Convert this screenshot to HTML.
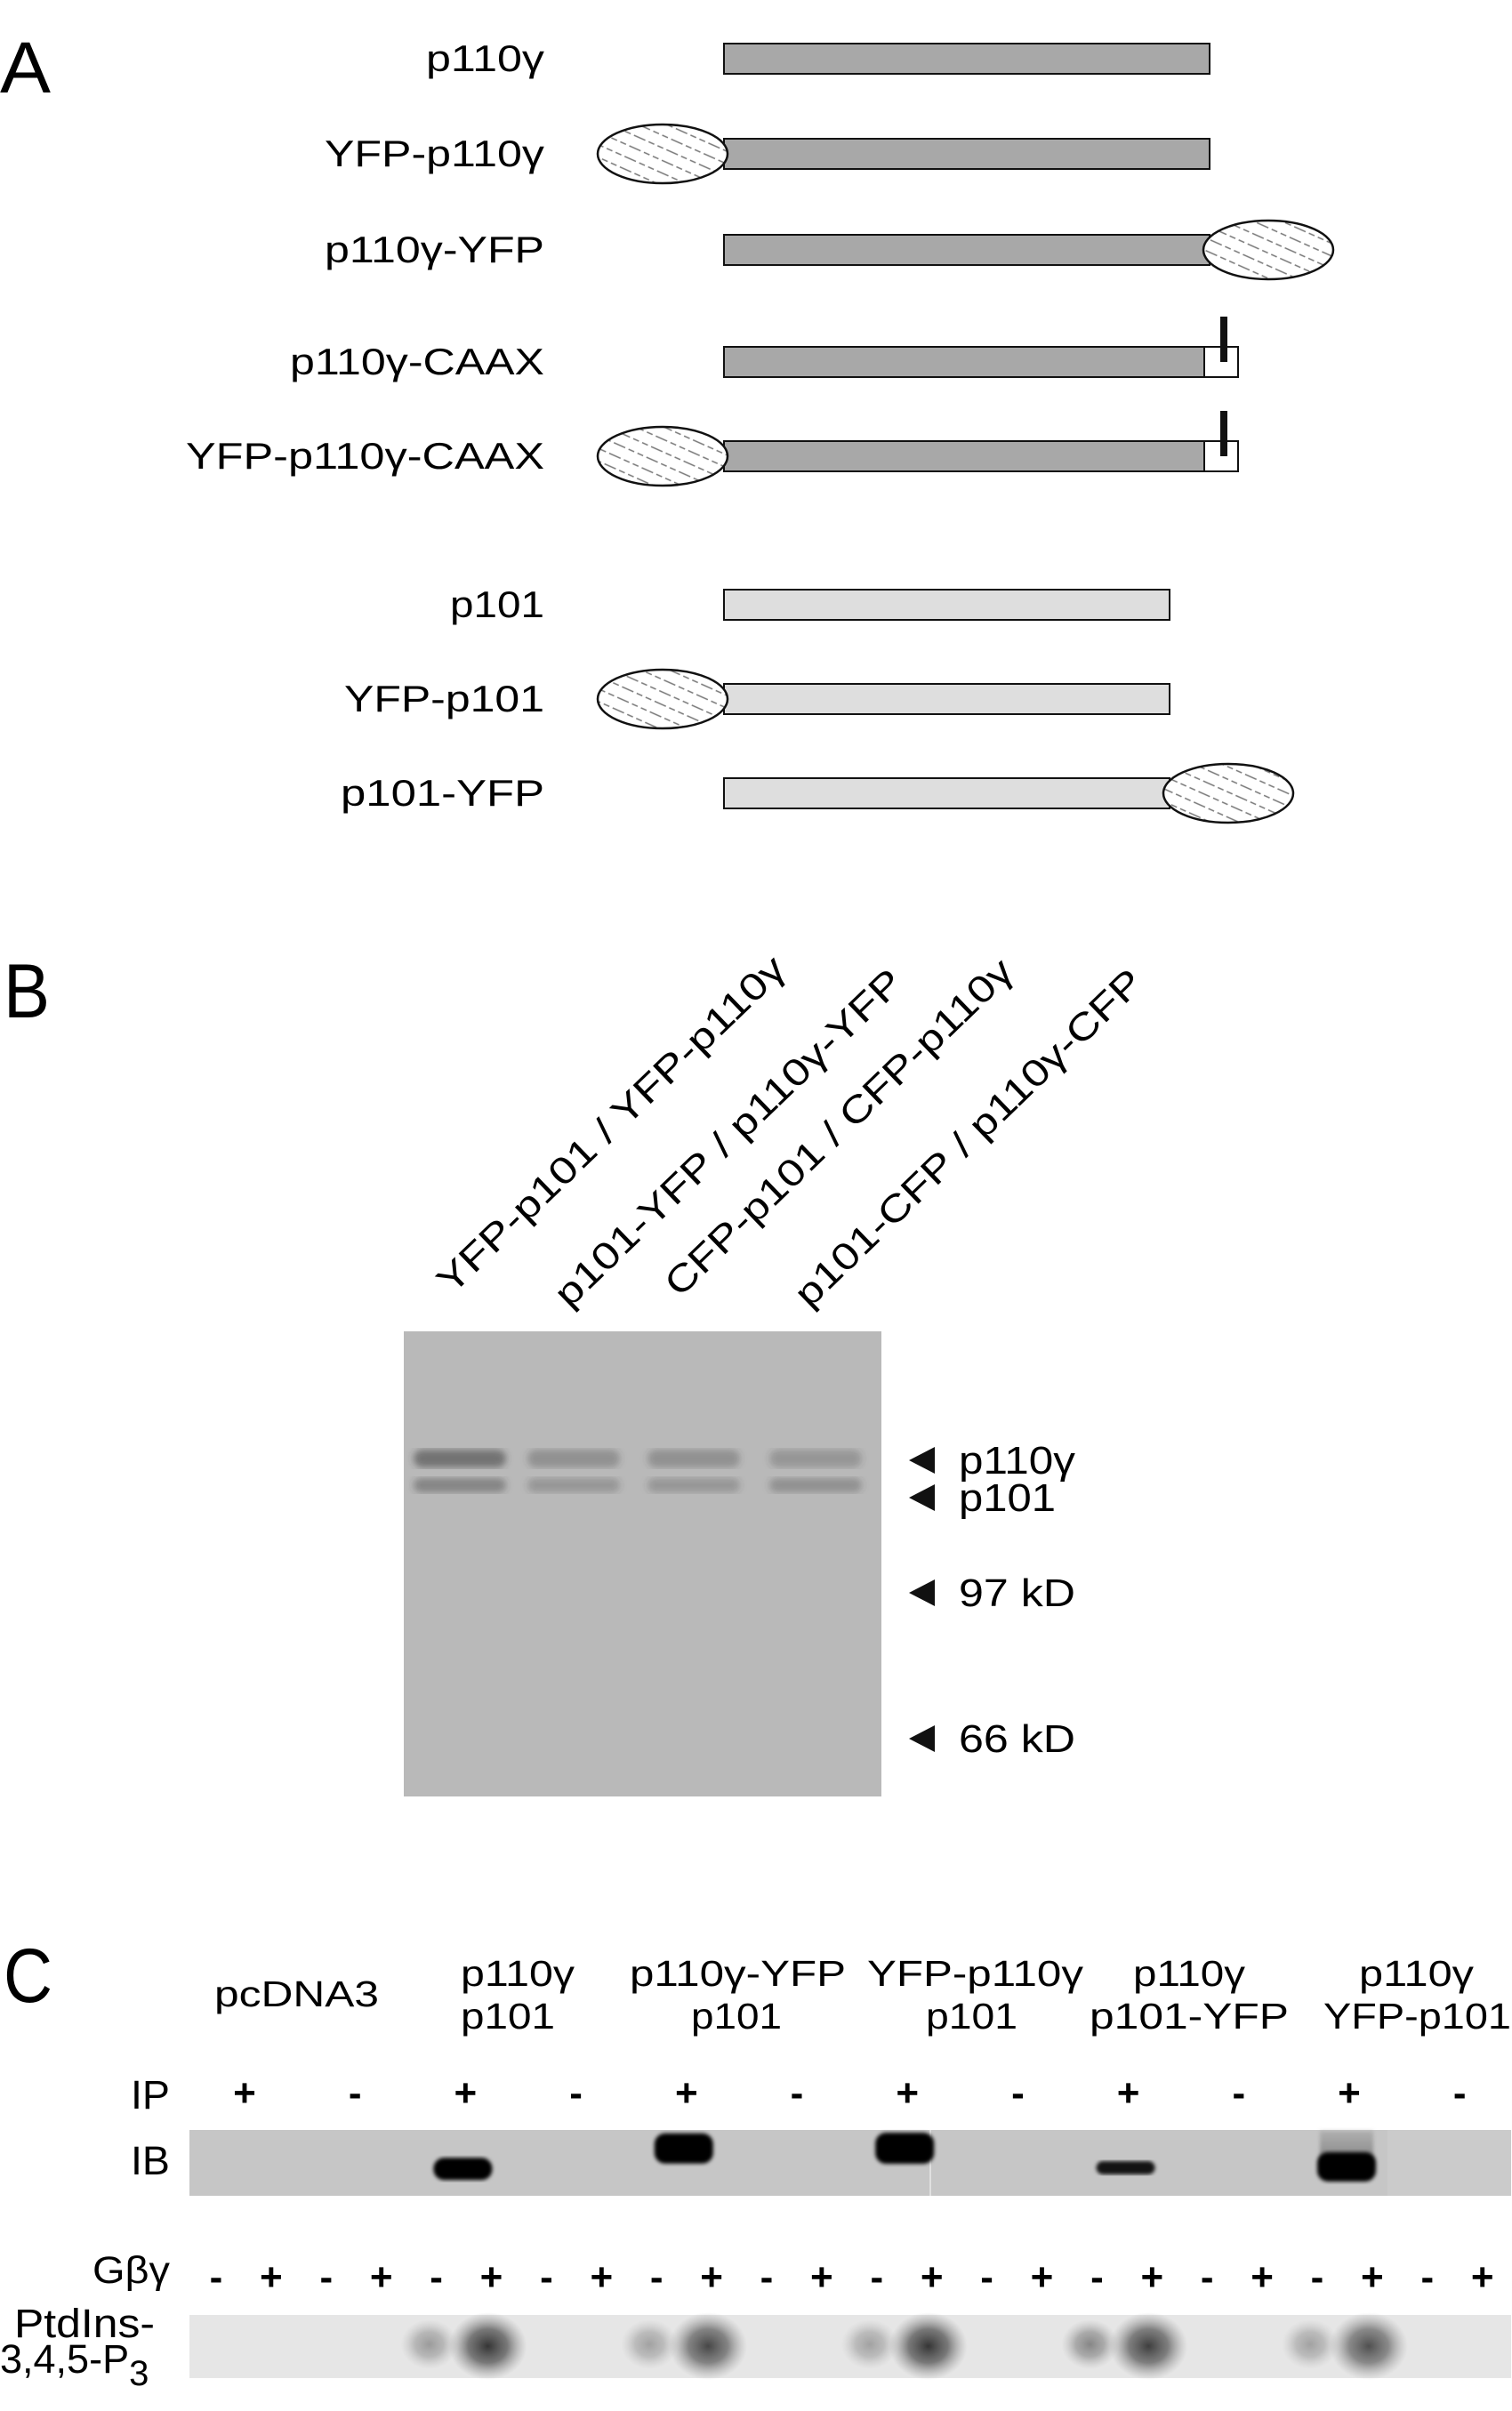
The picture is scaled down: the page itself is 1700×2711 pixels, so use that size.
<!DOCTYPE html>
<html><head><meta charset="utf-8">
<style>
html,body{margin:0;padding:0;background:#fff;}
svg{display:block;font-family:"Liberation Sans",Arial,sans-serif;}
</style></head>
<body>
<svg id="fig" xmlns="http://www.w3.org/2000/svg" width="1700" height="2711" viewBox="0 0 1700 2711">
<defs>
  <pattern id="hatch" patternUnits="userSpaceOnUse" width="40" height="26" patternTransform="rotate(24)">
    <line x1="0" y1="5" x2="40" y2="5" stroke="#777" stroke-width="1.4" stroke-dasharray="7 4"/>
    <line x1="0" y1="18" x2="40" y2="18" stroke="#777" stroke-width="1.4" stroke-dasharray="7 4"/>
  </pattern>
  <filter id="blur2"><feGaussianBlur stdDeviation="2"/></filter>
  <filter id="blur4"><feGaussianBlur stdDeviation="4"/></filter>
  <radialGradient id="spot">
    <stop offset="0" stop-color="#222" stop-opacity="1"/>
    <stop offset="0.5" stop-color="#444" stop-opacity="0.75"/>
    <stop offset="1" stop-color="#888" stop-opacity="0"/>
  </radialGradient>
  <linearGradient id="smear" x1="0" y1="0" x2="0" y2="1">
    <stop offset="0" stop-color="#999" stop-opacity="0.5"/>
    <stop offset="1" stop-color="#555" stop-opacity="0.7"/>
  </linearGradient>
</defs>

<text x="0" y="104" font-size="82" textLength="57" lengthAdjust="spacingAndGlyphs">A</text>
<text x="4" y="1144" font-size="86" textLength="52" lengthAdjust="spacingAndGlyphs">B</text>
<text x="4" y="2251" font-size="86" textLength="55" lengthAdjust="spacingAndGlyphs">C</text>

<g id="panelA"></g>

<g id="panelB">
  <rect x="454" y="1497" width="537" height="523" fill="#b9b9b9"/>
</g>

<g id="panelC">
  <rect x="213" y="2395" width="1486" height="74" fill="#c6c6c6"/>
  <rect x="1560" y="2395" width="139" height="74" fill="#cbcbcb"/>
  <line x1="1046" y1="2395" x2="1046" y2="2469" stroke="#e8e8e8" stroke-width="1.5"/>
  <rect x="213" y="2603" width="1486" height="71" fill="#e6e6e6"/>
</g>
<g id="textC" font-size="41">
  <text x="241" y="2256" textLength="185" lengthAdjust="spacingAndGlyphs">pcDNA3</text>
  <text x="518" y="2233" textLength="128" lengthAdjust="spacingAndGlyphs">p110γ</text>
  <text x="518" y="2281" textLength="106" lengthAdjust="spacingAndGlyphs">p101</text>
  <text x="708" y="2233" textLength="243" lengthAdjust="spacingAndGlyphs">p110γ-YFP</text>
  <text x="777" y="2281" textLength="102" lengthAdjust="spacingAndGlyphs">p101</text>
  <text x="975" y="2233" textLength="243" lengthAdjust="spacingAndGlyphs">YFP-p110γ</text>
  <text x="1041" y="2281" textLength="103" lengthAdjust="spacingAndGlyphs">p101</text>
  <text x="1274" y="2233" textLength="126" lengthAdjust="spacingAndGlyphs">p110γ</text>
  <text x="1225" y="2281" textLength="224" lengthAdjust="spacingAndGlyphs">p101-YFP</text>
  <text x="1528" y="2233" textLength="129" lengthAdjust="spacingAndGlyphs">p110γ</text>
  <text x="1488" y="2281" textLength="211" lengthAdjust="spacingAndGlyphs">YFP-p101</text>
  <text x="147" y="2371" font-size="45" textLength="44" lengthAdjust="spacingAndGlyphs">IP</text>
  <text x="147" y="2445" font-size="45" textLength="44" lengthAdjust="spacingAndGlyphs">IB</text>
  <text x="104" y="2567" font-size="43" textLength="87" lengthAdjust="spacingAndGlyphs">Gβγ</text>
  <text x="16" y="2628" font-size="45" textLength="158" lengthAdjust="spacingAndGlyphs">PtdIns-</text>
  <text x="0" y="2668" font-size="45">3,4,5-P<tspan font-size="40" dy="14">3</tspan></text>
</g>

<script>
// ---------- Panel A data ----------
const constructNames = ['p110γ','YFP-p110γ','p110γ-YFP','p110γ-CAAX','YFP-p110γ-CAAX','p101','YFP-p101','p101-YFP'];
const constructSubunit = ['p110','p110','p110','p110','p110','p101','p101','p101'];
const constructTag = ['none','N','C','none','N','none','N','C'];
const constructCaax = [false,false,false,true,true,false,false,false];
const labelWidths = [133,247,247,286,403,106,225,229];

// ---------- Panel B data ----------
const laneNamesB = ['YFP-p101 / YFP-p110γ','p101-YFP / p110γ-YFP','CFP-p101 / CFP-p110γ','p101-CFP / p110γ-CFP'];
const p110Intensity = [0.85,0.5,0.5,0.42];
const p101Intensity = [0.62,0.42,0.42,0.5];
const markerNames = ['p110γ','p101','97 kD','66 kD'];

// ---------- Panel C data ----------
const ipSigns = ['+','-','+','-','+','-','+','-','+','-','+','-'];
const gbgSigns = ['-','+','-','+','-','+','-','+','-','+','-','+','-','+','-','+','-','+','-','+','-','+','-','+'];
const ibIntensity = [0,1,1,1,0.9,1];
const ibMobility = [0,0.65,0.05,0.03,0.6,0.62];
const ibThickness = [0,25,34,35,15,33];
const ptMinus = [0,0.55,0.5,0.5,0.7,0.5];
const ptPlus = [0,1,0.9,1,0.95,0.85];

const NS='http://www.w3.org/2000/svg';
function mk(tag, attrs, parent){const e=document.createElementNS(NS,tag);for(const k in attrs)e.setAttribute(k,attrs[k]);parent.appendChild(e);return e;}

// ---- Panel A ----
const gA=document.getElementById('panelA');
const rowY=[66,173,281,407,513,680,786,892];
const barX=814, p110End=1360, p101End=1315, barH=34;
constructNames.forEach((nm,i)=>{
  const cy=rowY[i];
  const end=constructCaax[i]?1354:(constructSubunit[i]==='p110'?p110End:p101End);
  const t=mk('text',{x:612,y:cy+14,'font-size':42,'text-anchor':'end',textLength:labelWidths[i],lengthAdjust:'spacingAndGlyphs'},gA);
  
  
  t.textContent=nm;
  const b=mk('rect',{x:barX,y:cy-barH/2,width:end-barX,height:barH,fill:constructSubunit[i]==='p110'?'#a8a8a8':'#dedede',stroke:'#111','stroke-width':2},gA);
  
  
  if(constructCaax[i]){
    const bx=mk('rect',{x:1354,y:cy-barH/2,width:38,height:barH,fill:'#fff',stroke:'#111','stroke-width':2},gA);
    
    
    const st=mk('rect',{x:1372,y:cy-51,width:8,height:51,fill:'#111'},gA);
    
    
  }
  if(constructTag[i]!=='none'){
    const cx=constructTag[i]==='N'?745:end+66;
    const e1=mk('ellipse',{cx:cx,cy:cy,rx:73,ry:33,fill:'#fff'},gA);
    
    
    const e=mk('ellipse',{cx:cx,cy:cy,rx:73,ry:33,fill:'url(#hatch)',stroke:'#111','stroke-width':2.5},gA);
    
    
  }
});

// ---- Panel B ----
const gB=document.getElementById('panelB');
const laneX=[517,645,780,917];
const laneStart=[[508,1457],[640,1472],[764,1460],[910,1472]];
laneNamesB.forEach((nm,i)=>{
  const t=mk('text',{x:0,y:0,'font-size':42,transform:`translate(${laneStart[i][0]},${laneStart[i][1]}) rotate(-44)`,textLength:525,lengthAdjust:'spacingAndGlyphs'},gB);
  
  
  t.textContent=nm;
  const b1=mk('rect',{x:laneX[i]-52,y:1630,width:104,height:20,rx:10,fill:'#3a3a3a','fill-opacity':p110Intensity[i]*0.65,filter:'url(#blur4)'},gB);
  
  
  const b2=mk('rect',{x:laneX[i]-52,y:1662,width:104,height:16,rx:8,fill:'#3a3a3a','fill-opacity':p101Intensity[i]*0.65,filter:'url(#blur4)'},gB);
  
  
});
const markerY=[1642,1684,1791,1955];
const markerW=[131,109,131,131];
markerNames.forEach((nm,i)=>{
  const y=markerY[i];
  const p=mk('polygon',{points:`1022,${y} 1051,${y-15} 1051,${y+15}`,fill:'#111'},gB);
  
  
  const t=mk('text',{x:1078,y:y+15,'font-size':44,textLength:markerW[i],lengthAdjust:'spacingAndGlyphs'},gB);
  
  
  t.textContent=nm;
});

// ---- Panel C ----
const gC=document.getElementById('panelC');
const ipX0=275, ipStep=124.2;
ipSigns.forEach((s,i)=>{
  const t=mk('text',{x:ipX0+i*ipStep,y:2368,'font-size':44,'font-weight':'bold','text-anchor':'middle'},gC);
  
  
  t.textContent=s;
});
const gX0=243, gStep=61.9;
gbgSigns.forEach((s,i)=>{
  const t=mk('text',{x:gX0+i*gStep,y:2575,'font-size':44,'font-weight':'bold','text-anchor':'middle'},gC);
  
  
  t.textContent=s;
});
ibIntensity.forEach((v,g)=>{
  if(v<=0) return;
  const cx=ipX0+2*g*ipStep-3;
  const h=ibThickness[g];
  const cy=2397+h/2+ibMobility[g]*(70-h);
  if(g===5){
    const s=mk('rect',{x:cx-30,y:2396,width:60,height:cy-2396,fill:'url(#smear)',filter:'url(#blur2)'},gC);
    
    
  }
  const r=mk('rect',{x:cx-33,y:cy-h/2,width:66,height:h,rx:Math.min(12,h/2),fill:'#050505','fill-opacity':v,filter:'url(#blur2)'},gC);
  
  
});
ptPlus.forEach((v,g)=>{
  const xm=gX0+(4*g)*gStep-8, xp=gX0+(4*g+1)*gStep-4;
  if(ptMinus[g]>0){
    const e=mk('ellipse',{cx:xm,cy:2636,rx:32,ry:28,fill:'url(#spot)','fill-opacity':ptMinus[g]*0.7},gC);
    
    
  }
  if(v>0){
    const e=mk('ellipse',{cx:xp,cy:2638,rx:44,ry:38,fill:'url(#spot)','fill-opacity':v*0.9},gC);
    
    
  }
});
</script>
</svg>
</body></html>
